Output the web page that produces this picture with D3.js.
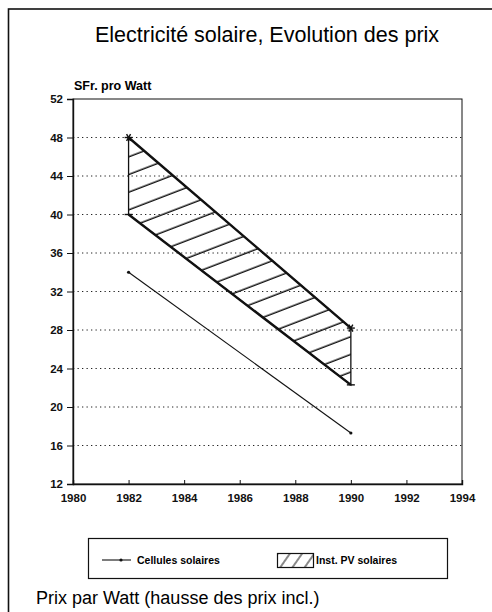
<!DOCTYPE html>
<html>
<head>
<meta charset="utf-8">
<script src="https://cdn.jsdelivr.net/npm/d3@7"></script>
<style>
  body { margin: 0; background: #fff; }
  svg { font-family: 'Liberation Sans', Arial, sans-serif; }
</style>
</head>
<body>
<script>
var years = [1982, 1990]
var instHaut = [48, 28.2]
var instBas = [40, 22.3]
var cellules = [34, 17.3]
var yTicks = [12, 16, 20, 24, 28, 32, 36, 40, 44, 48, 52]
var xTicks = [1980, 1982, 1984, 1986, 1988, 1990, 1992, 1994]

var margin = {top: 99, left: 73},
  width = 389,
  height = 385

var svg = d3.select('body').append('svg')
  .attr('width', 492)
  .attr('height', 612)

var defs = svg.append('defs')

defs.append('pattern')
  .attr('id', 'hatch')
  .attr('patternUnits', 'userSpaceOnUse')
  .attr('width', 60)
  .attr('height', 16.5)
  .attr('patternTransform', 'rotate(-21)')
  .append('line')
  .attr('x1', 0).attr('y1', 8)
  .attr('x2', 60).attr('y2', 8)
  .attr('stroke', '#111')
  .attr('stroke-width', 1.3)

defs.append('pattern')
  .attr('id', 'hatchLegend')
  .attr('patternUnits', 'userSpaceOnUse')
  .attr('width', 10)
  .attr('height', 30)
  .attr('patternTransform', 'rotate(35)')
  .append('line')
  .attr('x1', 5).attr('y1', 0)
  .attr('x2', 5).attr('y2', 30)
  .attr('stroke', '#111')
  .attr('stroke-width', 1)

// cadre extérieur (coupé à droite et en bas)
svg.append('rect')
  .attr('x', 8.5).attr('y', 9)
  .attr('width', 600).attr('height', 700)
  .attr('fill', 'none')
  .attr('stroke', '#111')
  .attr('stroke-width', 1.6)

svg.append('text')
  .attr('x', 267)
  .attr('y', 42)
  .attr('text-anchor', 'middle')
  .style('font-size', '21.5px')
  .text('Electricité solaire, Evolution des prix')

var x = d3.scaleLinear().domain([1980, 1994]).range([0, width])
var y = d3.scaleLinear().domain([12, 52]).range([height, 0])

var g = svg.append('g')
  .attr('transform', 'translate(' + margin.left + ',' + margin.top + ')')

// grille pointillée
g.append('g')
  .selectAll('line')
  .data(yTicks.slice(1, -1))
  .enter().append('line')
  .attr('x1', 0).attr('x2', width)
  .attr('y1', function (d) { return y(d) })
  .attr('y2', function (d) { return y(d) })
  .attr('stroke', '#222')
  .attr('stroke-width', 1)
  .attr('stroke-dasharray', '1.3,3.2')

g.append('rect')
  .attr('width', width).attr('height', height)
  .attr('fill', 'none')
  .attr('stroke', '#111')
  .attr('stroke-width', 1)

var yAxis = d3.axisLeft(y).tickValues(yTicks).tickSize(6).tickPadding(4)
var xAxis = d3.axisBottom(x).tickValues(xTicks).tickFormat(d3.format('d')).tickSize(-4).tickPadding(10)

g.append('g').attr('class', 'axis').call(yAxis)
g.append('g').attr('class', 'axis').attr('transform', 'translate(0,' + height + ')').call(xAxis)

g.selectAll('.axis .domain').attr('stroke', '#111').attr('stroke-width', 1.4)
g.selectAll('.axis line').attr('stroke', '#111')
g.selectAll('.axis text')
  .attr('fill', '#111')
  .style('font-size', '11.5px')
  .style('font-weight', 'bold')
  .style('font-family', "'Liberation Sans', Arial, sans-serif")

g.append('text')
  .attr('x', 1)
  .attr('y', -9)
  .style('font-size', '12.5px')
  .style('font-weight', 'bold')
  .text('SFr. pro Watt')

// bande hachurée des installations PV
var band = years.map(function (d, i) { return [x(d), y(instHaut[i])] })
  .concat(years.slice().reverse().map(function (d, j) {
    var i = years.length - 1 - j
    return [x(d), y(instBas[i])]
  }))

g.append('path')
  .attr('d', 'M' + band.join('L') + 'Z')
  .attr('fill', 'url(#hatch)')
  .attr('stroke', '#111')
  .attr('stroke-width', 1.3)

var line = d3.line()
  .x(function (d) { return x(d[0]) })
  .y(function (d) { return y(d[1]) })

g.append('path')
  .datum(years.map(function (d, i) { return [d, instHaut[i]] }))
  .attr('d', line)
  .attr('fill', 'none')
  .attr('stroke', '#111')
  .attr('stroke-width', 2.4)

g.append('path')
  .datum(years.map(function (d, i) { return [d, instBas[i]] }))
  .attr('d', line)
  .attr('fill', 'none')
  .attr('stroke', '#111')
  .attr('stroke-width', 2.4)

g.append('path')
  .datum(years.map(function (d, i) { return [d, cellules[i]] }))
  .attr('d', line)
  .attr('fill', 'none')
  .attr('stroke', '#111')
  .attr('stroke-width', 1.1)

g.selectAll('circle.cell')
  .data(years)
  .enter().append('circle')
  .attr('class', 'cell')
  .attr('cx', function (d) { return x(d) })
  .attr('cy', function (d, i) { return y(cellules[i]) })
  .attr('r', 1.6)
  .attr('fill', '#111')

// étoiles sur la limite haute, tirets sur la limite basse
years.forEach(function (d, i) {
  var px = x(d), py = y(instHaut[i])
  var s = g.append('g').attr('transform', 'translate(' + px + ',' + py + ')')
  ;[0, 60, 120].forEach(function (a) {
    s.append('line')
      .attr('x1', -4).attr('x2', 4)
      .attr('transform', 'rotate(' + a + ')')
      .attr('stroke', '#111').attr('stroke-width', 1.4)
  })
  var q = y(instBas[i])
  g.append('line')
    .attr('x1', px - 4).attr('x2', px + 4)
    .attr('y1', q).attr('y2', q)
    .attr('stroke', '#111').attr('stroke-width', 1.4)
})

// légende
var leg = svg.append('g')
leg.append('rect')
  .attr('x', 88.5).attr('y', 538.5)
  .attr('width', 359).attr('height', 40)
  .attr('fill', 'none')
  .attr('stroke', '#111')
  .attr('stroke-width', 1.2)

leg.append('line')
  .attr('x1', 102).attr('x2', 131)
  .attr('y1', 560).attr('y2', 560)
  .attr('stroke', '#111').attr('stroke-width', 1.1)
leg.append('circle')
  .attr('cx', 121).attr('cy', 560).attr('r', 1.6).attr('fill', '#111')
leg.append('text')
  .attr('x', 137).attr('y', 564)
  .style('font-size', '10.5px')
  .style('font-weight', 'bold')
  .text('Cellules solaires')

leg.append('rect')
  .attr('x', 277.5).attr('y', 553.5)
  .attr('width', 36).attr('height', 14)
  .attr('fill', 'url(#hatchLegend)')
  .attr('stroke', '#111')
  .attr('stroke-width', 1.2)
leg.append('text')
  .attr('x', 316).attr('y', 564)
  .style('font-size', '10.5px')
  .style('font-weight', 'bold')
  .text('Inst. PV solaires')

svg.append('text')
  .attr('x', 36).attr('y', 604)
  .style('font-size', '18px')
  .text('Prix par Watt (hausse des prix incl.)')
</script>
</body>
</html>
